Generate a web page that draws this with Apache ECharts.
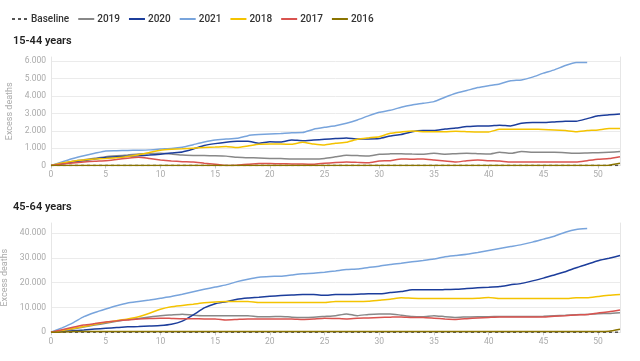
<!DOCTYPE html>
<html><head><meta charset="utf-8">
<script src="https://cdn.jsdelivr.net/npm/echarts@6/dist/echarts.min.js"></script>
<style>html,body{margin:0;padding:0;background:#fff}#c{width:640px;height:361px}</style>
</head><body><div id="c"></div>
<script>
const seriesNames = ['Baseline','2019','2020','2021','2018','2017','2016'];
const panelTitles = ['15-44 years','45-64 years'];

// 15-44 years (weeks 0..52)
const top2019 = [0,120,250,330,420,510,560,600,660,690,700,660,600,580,570,560,540,470,450,430,410,400,380,380,380,410,500,590,570,550,650,670,680,660,650,700,650,680,700,680,660,760,700,800,770,760,760,740,700,720,740,770,800];
const top2020 = [0,100,200,280,380,460,500,530,560,600,650,720,780,950,1150,1260,1340,1390,1390,1280,1370,1350,1470,1430,1470,1510,1550,1590,1530,1530,1550,1700,1790,1950,2010,2010,2100,2160,2240,2280,2280,2320,2280,2430,2470,2470,2510,2550,2550,2700,2860,2920,2970];
const top2021 = [0,200,400,560,700,840,850,870,880,900,950,980,1050,1200,1350,1470,1520,1570,1720,1780,1820,1850,1890,1900,2090,2200,2290,2430,2620,2860,3070,3180,3360,3490,3580,3680,3930,4160,4320,4490,4600,4700,4880,4930,5090,5320,5510,5760,5930,5930];
const top2018 = [0,150,250,320,370,410,450,520,620,750,880,930,960,1000,1040,1060,1090,1030,1120,1220,1240,1240,1220,1340,1240,1180,1280,1340,1510,1590,1660,1860,1930,1990,1950,1950,1950,1970,1950,1930,1930,2090,2090,2090,2090,2080,2050,2010,1950,2010,2050,2130,2130];
const top2017 = [0,80,150,200,250,280,350,420,470,400,320,260,220,200,130,70,0,20,70,110,110,100,90,80,70,130,170,200,180,160,260,280,380,360,380,320,260,200,280,320,280,260,200,200,200,200,200,200,200,280,360,400,510];
const top2016 = [0,0,0,0,0,0,0,0,0,0,0,0,0,0,0,0,0,0,0,0,0,0,0,0,0,0,0,0,0,0,0,0,0,0,0,0,0,0,0,0,0,0,0,0,0,0,0,0,0,0,0,20,130];
const topBaseline = [0,0,0,0,0,0,0,0,0,0,0,0,0,0,0,0,0,0,0,0,0,0,0,0,0,0,0,0,0,0,0,0,0,0,0,0,0,0,0,0,0,0,0,0,0,0,0,0,0,0,0,0,0];

// 45-64 years (weeks 0..52)
const bot2019 = [0,600,1300,2100,2900,3600,4400,5100,5600,6200,6700,7000,7300,6900,6700,6700,6700,6700,6700,6300,6300,6400,6100,6000,6100,6400,6700,7400,6700,7200,7400,7400,6900,6400,6300,6700,6300,6000,6200,6300,6300,6400,6400,6400,6400,6500,6700,6900,7100,7200,7500,7600,7900];
const bot2020 = [0,300,600,900,1300,1600,1900,2200,2300,2500,2700,3200,4500,7000,9800,11500,12300,13300,13800,14100,14500,14800,15000,15200,15200,14900,15200,15200,15300,15500,15500,16000,16400,17100,17100,17100,17200,17300,17600,17900,18100,18400,19100,19700,20700,21800,23100,24400,26000,27400,28800,29800,30900];
const bot2021 = [0,1800,3800,6300,8000,9400,10700,11800,12400,13000,13700,14400,15300,16300,17300,18200,19100,20400,21400,22200,22500,22600,23100,23600,23800,24200,24700,25300,25500,26100,26600,27300,27800,28400,28900,29500,30400,30900,31400,32100,32900,33700,34500,35300,36300,37500,38700,40300,41400,41800];
const bot2018 = [0,700,1500,2300,3200,4000,4700,5400,6300,7700,9300,10300,10800,11300,11900,12200,12400,12400,12400,12000,12000,12000,12000,12000,12000,12000,12400,12400,12400,12500,12900,13300,13900,13700,13600,13600,13600,13600,13600,13700,14000,13600,13600,13600,13600,13600,13600,13600,13900,13900,14400,14900,15200];
const bot2017 = [0,1000,2000,2900,3500,4100,4600,5000,5400,5600,5700,5600,5500,5500,5400,5400,5000,5200,5400,5400,5400,5400,5400,5200,5400,5700,5600,5400,5700,5800,6000,6100,6200,6000,6000,5700,5400,5200,5500,5800,6000,6200,6200,6200,6200,6200,6500,6700,7000,7200,7800,8300,9000];
const bot2016 = [0,100,300,300,300,300,300,300,300,300,300,300,300,300,300,300,300,300,300,300,300,300,300,300,300,300,300,300,300,300,300,300,300,300,300,300,300,300,300,300,300,300,300,300,300,300,300,300,300,300,300,400,1200];
const botBaseline = [0,0,0,0,0,0,0,0,0,0,0,0,0,0,0,0,0,0,0,0,0,0,0,0,0,0,0,0,0,0,0,0,0,0,0,0,0,0,0,0,0,0,0,0,0,0,0,0,0,0,0,0,0];

const colors = {Baseline:'#555555','2019':'#888888','2020':'#1c3d9b','2021':'#78a4dc','2018':'#f4c300','2017':'#d9534f','2016':'#8a7400'};
const topData = {Baseline:topBaseline,'2019':top2019,'2020':top2020,'2021':top2021,'2018':top2018,'2017':top2017,'2016':top2016};
const botData = {Baseline:botBaseline,'2019':bot2019,'2020':bot2020,'2021':bot2021,'2018':bot2018,'2017':bot2017,'2016':bot2016};

const fmt = v => String(v).replace(/\B(?=(\d{3})+(?!\d))/g, '.');
const FONT = 'Roboto, "Noto Sans", sans-serif';

function yAxes(gridIndex, max, interval){
  return [{
    type:'value', gridIndex, min:0, max, interval, position:'left',
    name:'Excess deaths', nameLocation:'middle', nameGap:31,
    nameTextStyle:{color:'#aaa', fontSize:9, fontFamily:FONT},
    axisLine:{show:true, lineStyle:{color:'#e6e6e6'}},
    axisTick:{show:false},
    axisLabel:{color:'#aaa', fontSize:8.5, fontFamily:FONT, formatter:fmt, showMaxLabel:false, margin:5},
    splitLine:{show:true, showMaxLine:false, lineStyle:{color:'#ebebeb'}}
  },{
    type:'value', gridIndex, min:0, max, interval, position:'right',
    axisLine:{show:true, lineStyle:{color:'#e6e6e6'}},
    axisTick:{show:false}, axisLabel:{show:false}, splitLine:{show:false}
  }];
}
function xAxis(gridIndex){
  return {type:'value', gridIndex, min:0, max:52, interval:5,
    axisLine:{show:true, lineStyle:{color:'#e0e0e0'}},
    axisTick:{show:true, length:3, lineStyle:{color:'#ccc'}},
    axisLabel:{color:'#aaa', fontSize:8.5, fontFamily:FONT, margin:5, showMaxLabel:false},
    splitLine:{show:false}};
}

const series = [];
[topData, botData].forEach((d, gi) => {
  seriesNames.forEach(name => {
    series.push({
      name, type:'line', xAxisIndex:gi, yAxisIndex:gi*2,
      data: d[name].map((v,i)=>[i,v]),
      showSymbol:false, symbol:'none', smooth:0.15,
      lineStyle:{width:1.5, color:colors[name], type: name==='Baseline' ? [3,3] : 'solid'},
      itemStyle:{color:colors[name]},
      animation:false
    });
  });
});

const chart = echarts.init(document.getElementById('c'), null, {renderer:'canvas'});
chart.setOption({
  animation:false,
  textStyle:{fontFamily:FONT},
  legend:{
    top:9, left:6, itemWidth:16, itemHeight:8, itemGap:8,
    data: seriesNames,
    itemStyle:{color:'transparent', borderColor:'transparent', borderWidth:0},
    lineStyle:{width:2},
    textStyle:{color:'#333', fontSize:10, fontWeight:500, fontFamily:FONT, padding:[0,0,0,-2]}
  },
  title:[
    {text:panelTitles[0], left:8, top:31, textStyle:{fontSize:11, fontWeight:600, color:'#222', fontFamily:FONT}},
    {text:panelTitles[1], left:8, top:197, textStyle:{fontSize:11, fontWeight:600, color:'#222', fontFamily:FONT}}
  ],
  grid:[
    {left:51, right:20, top:57, height:108.5, outerBoundsMode:'none', containLabel:false},
    {left:51, right:20, top:223, height:109.3, outerBoundsMode:'none', containLabel:false}
  ],
  xAxis:[xAxis(0), xAxis(1)],
  yAxis:[...yAxes(0, 6250, 1000), ...yAxes(1, 44000, 10000)],
  series
});
</script></body></html>
